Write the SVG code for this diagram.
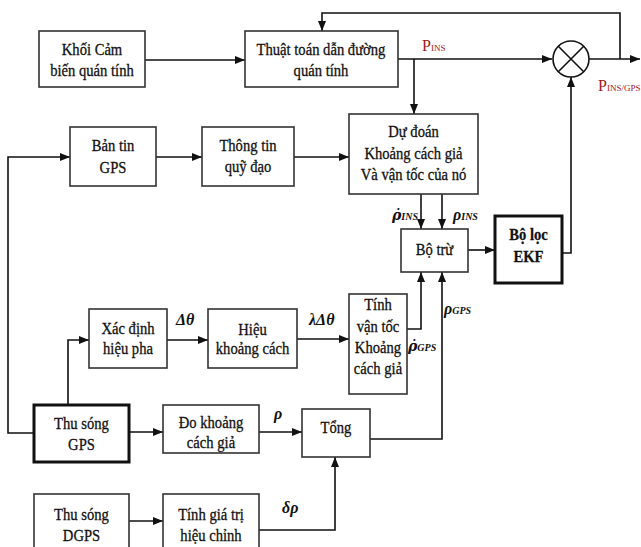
<svg xmlns="http://www.w3.org/2000/svg" width="641" height="547" viewBox="0 0 641 547">
<defs>
<marker id="ah" viewBox="0 0 10 8" refX="10" refY="4" markerWidth="10" markerHeight="8" markerUnits="userSpaceOnUse" orient="auto">
<path d="M0,0 L10,4 L0,8 Z" fill="#111"/>
</marker>
</defs>
<style>
.b{fill:#fff;stroke:#333;stroke-width:1.6}
.bk{fill:#fff;stroke:#111;stroke-width:3}
.t{font-family:"Liberation Serif","Times New Roman",serif;font-size:17px;fill:#111;stroke:#111;stroke-width:0.3;text-anchor:middle}
.tb{font-weight:bold}
.c{fill:none;stroke:#111;stroke-width:1.6;marker-end:url(#ah)}
.cn{fill:none;stroke:#111;stroke-width:1.6}
.m{font-family:"Liberation Serif","Times New Roman",serif;font-style:italic;font-weight:bold;font-size:16px;fill:#111}
.md{font-family:"DejaVu Serif",serif;font-style:italic;font-weight:bold;font-size:14px;fill:#111}
.ms{font-size:10px}
.mds{font-family:"Liberation Serif",serif;font-size:10px}
.p{font-family:"Liberation Serif","Times New Roman",serif;fill:#a3161c;font-size:16px}
.ps{font-size:9px}
</style>
<rect width="641" height="547" fill="#fff"/>
<g id="connectors">
<path class="c" d="M145,60 H245"/>
<path class="c" d="M398,59 H552"/>
<path class="c" d="M414,59 V114"/>
<path class="c" d="M589,59 H640"/>
<path class="c" d="M620,59 V13 H322 V31"/>
<path class="c" d="M34,433 H8 V157 H70"/>
<path class="c" d="M156,157 H202"/>
<path class="c" d="M294,157 H349"/>
<path class="c" d="M421,194 V229"/>
<path class="c" d="M442,194 V229"/>
<path class="c" d="M468,250 H495"/>
<path class="c" d="M562,253 H571 V77"/>
<path class="c" d="M68,405 V340 H89"/>
<path class="c" d="M167,340 H208"/>
<path class="c" d="M297,339 H349"/>
<path class="c" d="M407,329 H421 V272"/>
<path class="c" d="M129,432 H163"/>
<path class="c" d="M259,432 H302"/>
<path class="c" d="M370,439 H442 V272"/>
<path class="c" d="M129,521 H163"/>
<path class="c" d="M259,530 H335 V457"/>
</g>
<g id="sum">
<circle cx="571" cy="59" r="18" fill="#fff" stroke="#111" stroke-width="1.6"/>
<path class="cn" d="M558.3,46.3 L583.7,71.7 M583.7,46.3 L558.3,71.7"/>
</g>
<g id="n1"><rect class="b" x="39" y="31" width="106" height="56"/>
<text class="t" transform="translate(92,55) scale(0.86,1)">Khối Cảm</text>
<text class="t" transform="translate(92,76) scale(0.86,1)">biến quán tính</text></g>
<g id="n2"><rect class="b" x="245" y="31" width="153" height="56"/>
<text class="t" transform="translate(321,55) scale(0.86,1)">Thuật toán dẫn đường</text>
<text class="t" transform="translate(321,76) scale(0.86,1)">quán tính</text></g>
<g id="n3"><rect class="b" x="70" y="127" width="86" height="59"/>
<text class="t" transform="translate(113,151) scale(0.86,1)">Bản tin</text>
<text class="t" transform="translate(113,173) scale(0.86,1)">GPS</text></g>
<g id="n4"><rect class="b" x="202" y="127" width="92" height="59"/>
<text class="t" transform="translate(248,151) scale(0.86,1)">Thông tin</text>
<text class="t" transform="translate(248,172) scale(0.86,1)">quỹ đạo</text></g>
<g id="n5"><rect class="b" x="349" y="114" width="129" height="80"/>
<text class="t" transform="translate(413.5,137) scale(0.86,1)">Dự đoán</text>
<text class="t" transform="translate(413.5,159) scale(0.86,1)">Khoảng cách giả</text>
<text class="t" transform="translate(413.5,180) scale(0.86,1)">Và vận tốc của nó</text></g>
<g id="n6"><rect class="b" x="401" y="229" width="67" height="43"/>
<text class="t" transform="translate(434.5,255) scale(0.86,1)">Bộ trừ</text></g>
<g id="n7"><rect class="bk" x="495" y="216" width="67" height="67"/>
<text class="t tb" transform="translate(528.5,240) scale(0.86,1)">Bộ lọc</text>
<text class="t tb" transform="translate(528.5,262) scale(0.86,1)">EKF</text></g>
<g id="n8"><rect class="b" x="89" y="309" width="78" height="59"/>
<text class="t" transform="translate(128,334) scale(0.86,1)">Xác định</text>
<text class="t" transform="translate(128,354) scale(0.86,1)">hiệu pha</text></g>
<g id="n9"><rect class="b" x="208" y="309" width="89" height="59"/>
<text class="t" transform="translate(252.5,335) scale(0.86,1)">Hiệu</text>
<text class="t" transform="translate(252.5,354) scale(0.86,1)">khoảng cách</text></g>
<g id="n10"><rect class="b" x="349" y="294" width="58" height="100"/>
<text class="t" transform="translate(378,310) scale(0.86,1)">Tính</text>
<text class="t" transform="translate(378,332) scale(0.86,1)">vận tốc</text>
<text class="t" transform="translate(378,353) scale(0.86,1)">Khoảng</text>
<text class="t" transform="translate(378,374) scale(0.86,1)">cách giả</text></g>
<g id="n11"><rect class="bk" x="34" y="405" width="95" height="57"/>
<text class="t" transform="translate(81.5,429) scale(0.86,1)">Thu sóng</text>
<text class="t" transform="translate(81.5,450) scale(0.86,1)">GPS</text></g>
<g id="n12"><rect class="b" x="163" y="405" width="96" height="48"/>
<text class="t" transform="translate(211,428) scale(0.86,1)">Đo khoảng</text>
<text class="t" transform="translate(211,448) scale(0.86,1)">cách giả</text></g>
<g id="n13"><rect class="b" x="302" y="409" width="68" height="48"/>
<text class="t" transform="translate(336,433) scale(0.86,1)">Tổng</text></g>
<g id="n14"><rect class="b" x="34" y="494" width="95" height="60"/>
<text class="t" transform="translate(81.5,520) scale(0.86,1)">Thu sóng</text>
<text class="t" transform="translate(81.5,541) scale(0.86,1)">DGPS</text></g>
<g id="n15"><rect class="b" x="163" y="494" width="96" height="60"/>
<text class="t" transform="translate(211,520) scale(0.86,1)">Tính giá trị</text>
<text class="t" transform="translate(211,541) scale(0.86,1)">hiệu chỉnh</text></g>
<g id="labels">
<text class="p" x="422" y="51">P<tspan class="ps">INS</tspan></text>
<text class="p" x="598" y="91">P<tspan class="ps">INS/GPS</tspan></text>
<text class="m" x="176" y="325">Δθ</text>
<text class="m" x="309" y="325">λΔθ</text>
<text class="md" x="392" y="220">ρ̇<tspan class="mds">INS</tspan></text>
<text class="m" x="453" y="220">ρ<tspan class="ms">INS</tspan></text>
<text class="m" x="444" y="314">ρ<tspan class="ms">GPS</tspan></text>
<text class="md" x="408" y="351">ρ̇<tspan class="mds">GPS</tspan></text>
<text class="m" x="274" y="419">ρ</text>
<text class="m" x="282" y="513">δρ</text>
</g>
</svg>
